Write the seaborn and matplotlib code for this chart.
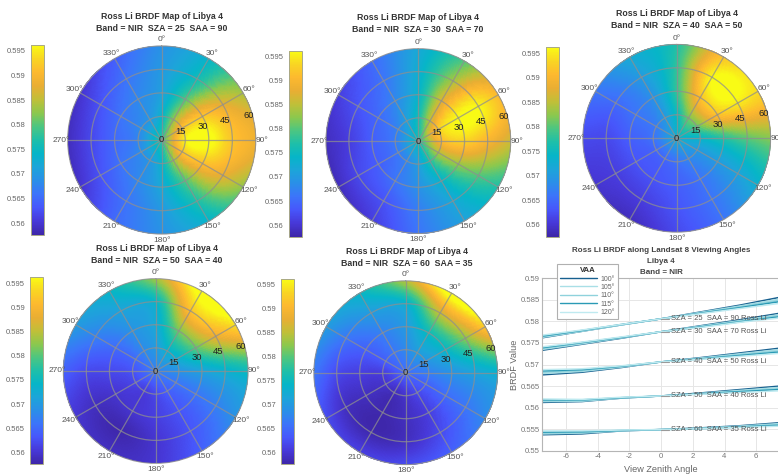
import numpy as np
import pandas as pd
import matplotlib
matplotlib.use("Agg")
import matplotlib.pyplot as plt
from matplotlib.colors import LinearSegmentedColormap
from matplotlib.lines import Line2D
import seaborn as sns

W, H = 778, 474

# ---- BRDF map tables: columns are azimuth 0,30,...,330
AZ = [0, 30, 60, 90, 120, 150, 180, 210, 240, 270, 300, 330]
RINGS = [0, 15, 30, 45, 60]

M25_C = 0.578
M25_15 = [.574, .583, .591, .595, .591, .583, .574, .570, .569, .568, .569, .570]
M25_30 = [.571, .580, .592, .597, .591, .580, .572, .568, .566, .565, .566, .568]
M25_45 = [.570, .576, .588, .592, .588, .577, .570, .566, .563, .562, .563, .566]
M25_60 = [.569, .574, .584, .589, .583, .574, .569, .565, .560, .559, .560, .564]

M30_C = 0.576
M30_15 = [.576, .585, .592, .590, .584, .577, .571, .568, .567, .567, .568, .571]
M30_30 = [.574, .587, .596, .593, .583, .574, .569, .566, .564, .564, .565, .568]
M30_45 = [.573, .584, .596, .590, .580, .572, .567, .563, .562, .561, .563, .566]
M30_60 = [.572, .580, .591, .586, .577, .571, .566, .561, .559, .559, .561, .565]

M40_C = 0.573
M40_15 = [.575, .581, .580, .574, .570, .568, .566, .565, .565, .566, .567, .570]
M40_30 = [.578, .591, .591, .577, .570, .566, .564, .563, .563, .564, .566, .569]
M40_45 = [.578, .596, .595, .580, .571, .566, .563, .561, .561, .562, .565, .570]
M40_60 = [.577, .592, .594, .582, .573, .566, .562, .559, .560, .562, .566, .572]

M50_C = 0.567
M50_15 = [.570, .573, .572, .569, .566, .564, .562, .561, .562, .563, .565, .568]
M50_30 = [.572, .581, .580, .571, .566, .563, .561, .560, .560, .562, .565, .569]
M50_45 = [.574, .591, .588, .573, .567, .563, .560, .558, .559, .562, .567, .571]
M50_60 = [.583, .598, .594, .575, .569, .564, .560, .559, .560, .564, .570, .574]

M60_C = 0.565
M60_15 = [.568, .570, .569, .567, .564, .562, .560, .559, .560, .561, .564, .566]
M60_30 = [.570, .575, .574, .569, .565, .561, .559, .558, .559, .561, .564, .567]
M60_45 = [.573, .585, .582, .571, .566, .562, .559, .558, .559, .562, .566, .570]
M60_60 = [.584, .598, .592, .573, .568, .564, .562, .561, .562, .566, .570, .574]

TITLES = ["Band = NIR  SZA = 25  SAA = 90", "Band = NIR  SZA = 30  SAA = 70",
          "Band = NIR  SZA = 40  SAA = 50", "Band = NIR  SZA = 50  SAA = 40",
          "Band = NIR  SZA = 60  SAA = 35"]
CBAR_TICKS = [0.56, 0.565, 0.57, 0.575, 0.58, 0.585, 0.59, 0.595]
CBAR_LABELS = ["0.56", "0.565", "0.57", "0.575", "0.58", "0.585", "0.59", "0.595"]
THETA_LABELS = ["0°", "30°", "60°", "90°", "120°", "150°", "180°", "210°", "240°", "270°", "300°", "330°"]
R_LABELS = ["0", "15", "30", "45", "60"]
R_LABEL_AZ = [0, 66, 72, 73, 74]
R_LABEL_R = [0, 13, 27.8, 42.4, 57.6]

# ---- line panel
VZA = [-7.5, -5, -2.5, 0, 2.5, 5, 7.5]
VAA_NAMES = ["100°", "105°", "110°", "115°", "120°"]
L25_100 = [.5762, .5777, .5792, .5806, .5822, .5838, .5856]
L25_105 = [.5763, .5777, .5792, .5806, .5821, .5836, .5852]
L25_110 = [.5765, .5778, .5792, .5806, .5820, .5834, .5849]
L25_115 = [.5766, .5779, .5793, .5806, .5819, .5832, .5846]
L25_120 = [.5768, .5780, .5793, .5806, .5818, .5830, .5842]

L30_100 = [.5733, .5747, .5761, .5776, .5790, .5804, .5819]
L30_105 = [.5735, .5748, .5762, .5776, .5789, .5802, .5816]
L30_110 = [.5737, .5750, .5762, .5776, .5788, .5801, .5814]
L30_115 = [.5739, .5751, .5763, .5776, .5787, .5799, .5811]
L30_120 = [.5741, .5752, .5764, .5776, .5786, .5798, .5808]

L40_100 = [.5676, .5682, .5693, .5706, .5716, .5727, .5738]
L40_105 = [.5679, .5684, .5694, .5706, .5715, .5725, .5735]
L40_110 = [.5682, .5686, .5695, .5706, .5714, .5723, .5732]
L40_115 = [.5685, .5688, .5696, .5706, .5713, .5721, .5729]
L40_120 = [.5688, .5690, .5697, .5706, .5712, .5719, .5726]

L50_100 = [.5612, .5614, .5622, .5627, .5634, .5642, .5650]
L50_105 = [.5614, .5615, .5622, .5627, .5633, .5640, .5647]
L50_110 = [.5616, .5616, .5623, .5627, .5632, .5638, .5644]
L50_115 = [.5618, .5618, .5623, .5627, .5632, .5637, .5642]
L50_120 = [.5620, .5619, .5624, .5627, .5631, .5635, .5639]

L60_100 = [.5537, .5539, .5546, .5549, .5553, .5558, .5565]
L60_105 = [.5539, .5541, .5546, .5549, .5552, .5557, .5563]
L60_110 = [.5541, .5542, .5547, .5549, .5552, .5556, .5561]
L60_115 = [.5543, .5544, .5547, .5549, .5551, .5555, .5559]
L60_120 = [.5546, .5546, .5548, .5549, .5551, .5554, .5557]

LINE_LABELS = ["SZA = 25  SAA = 90 Ross Li", "SZA = 30  SAA = 70 Ross Li",
               "SZA = 40  SAA = 50 Ross Li", "SZA = 50  SAA = 40 Ross Li",
               "SZA = 60  SAA = 35 Ross Li"]
LINE_LABEL_Y = [.5806, .5776, .5706, .5627, .5549]

PARULA = ["#3e26a8", "#4738d8", "#4756fb", "#3c74fa", "#2a8fe8", "#1ca5d9", "#06b5c8",
          "#1ebfa9", "#4cc681", "#8cc84d", "#c1bf38", "#e9ae33", "#fdb92f", "#f9d523", "#f9fb15"]
cmap = LinearSegmentedColormap.from_list("parula_like", PARULA, N=256)
VMIN, VMAX = 0.5576, 0.5962

sns.set_theme(style="whitegrid", rc={"axes.axisbelow": False})
plt.rcParams["font.family"] = ["Liberation Sans", "DejaVu Sans"]

fig = plt.figure(figsize=(W / 100, H / 100), dpi=100, facecolor="white")


def box(x0, y0, x1, y1):
    return [x0 / W, 1 - y1 / H, (x1 - x0) / W, (y1 - y0) / H]


def catmull(table, n, axis, periodic):
    """Smooth resampling for shading only; the table holds the read values."""
    arr = np.moveaxis(np.asarray(table, float), axis, 0)
    if periodic:
        pad = np.concatenate([arr[-1:], arr, arr[:2]], axis=0)
    else:
        pad = np.concatenate([2 * arr[:1] - arr[1:2], arr, 2 * arr[-1:] - arr[-2:-1]], axis=0)
    segs = len(pad) - 3
    u = np.linspace(0, segs, n)
    i = np.minimum(u.astype(int), segs - 1)
    t = (u - i).reshape((-1,) + (1,) * (arr.ndim - 1))
    p0, p1, p2, p3 = pad[i], pad[i + 1], pad[i + 2], pad[i + 3]
    out = 0.5 * (2 * p1 + (p2 - p0) * t + (2 * p0 - 5 * p1 + 4 * p2 - p3) * t ** 2
                 + (3 * p1 - p0 - 3 * p2 + p3) * t ** 3)
    return np.moveaxis(out, 0, axis)


def soften(field, width):
    """Circular running mean along azimuth, to remove kinks of the resampling."""
    kernel = np.ones(width) / width
    wrapped = np.concatenate([field[:, -width:], field, field[:, :width]], axis=1)
    return np.apply_along_axis(lambda row: np.convolve(row, kernel, mode="same"), 1, wrapped)[:, width:-width]


def draw_map(centre, rings, title, circle, cbar, title_xy):
    cx, cy, rad = circle
    ax = fig.add_axes(box(cx - rad, cy - rad, cx + rad, cy + rad), projection="polar")
    table = np.vstack([[centre] * len(AZ)] + rings)
    fine = catmull(table, 120, 0, False)
    fine = soften(catmull(fine, 720, 1, True), 21)
    the = np.radians(np.linspace(0, 360, 721))
    re = np.linspace(0, 60, 121)
    mesh = ax.pcolormesh(the, re, fine, cmap=cmap, vmin=VMIN, vmax=VMAX, shading="flat",
                         antialiased=False, edgecolors="face", linewidth=0.3)
    ax.set_theta_zero_location("N")
    ax.set_theta_direction(-1)
    ax.set_rlim(0, 60)
    ax.set_thetagrids(AZ, THETA_LABELS, fontsize=6, color="#555555")
    ax.set_rgrids(RINGS, [""] * len(RINGS))
    for txt, az, r in zip(R_LABELS, R_LABEL_AZ, R_LABEL_R):
        ax.text(np.radians(az), r, txt, fontsize=6.8, color="#222222", ha="center", va="center", zorder=6)
    ax.tick_params(axis="x", pad=-8.5)
    ax.grid(True, color="#8f8f8f", lw=0.9, alpha=0.75)
    ax.spines["polar"].set_color("#9a9a9a")
    ax.spines["polar"].set_linewidth(0.6)
    cax = fig.add_axes(box(*cbar))
    cax.grid(False)
    cb = fig.colorbar(mesh, cax=cax)
    cb.ax.grid(False)
    cb.set_ticks(CBAR_TICKS, labels=CBAR_LABELS)
    cb.ax.yaxis.set_ticks_position("left")
    cb.ax.tick_params(labelsize=5.5, colors="#666666", length=0, pad=3.5)
    cb.outline.set_edgecolor("#a8a888")
    cb.outline.set_linewidth(0.7)
    tx, ty1, ty2 = title_xy
    fig.text(tx / W, 1 - ty1 / H, "Ross Li BRDF Map of Libya 4", ha="center", va="center",
             fontsize=6.35, fontweight="bold", color="#333333")
    fig.text(tx / W, 1 - ty2 / H, title, ha="center", va="center",
             fontsize=6.35, fontweight="bold", color="#333333")


draw_map(M25_C, [M25_15, M25_30, M25_45, M25_60], TITLES[0], (161.7, 140, 94.2), (30.7, 45, 44, 235), (162, 16.7, 28.3))
draw_map(M30_C, [M30_15, M30_30, M30_45, M30_60], TITLES[1], (418.3, 141, 92.5), (288.7, 50.7, 302.3, 236.7), (418, 18, 30))
draw_map(M40_C, [M40_15, M40_30, M40_45, M40_60], TITLES[2], (676.7, 138.3, 94), (545.7, 47.3, 559, 236.7), (676.7, 14, 25.7))
draw_map(M50_C, [M50_15, M50_30, M50_45, M50_60], TITLES[3], (155.7, 371, 92.5), (30, 277.3, 43.3, 464), (156.7, 248.3, 260.7))
draw_map(M60_C, [M60_15, M60_30, M60_45, M60_60], TITLES[4], (405.7, 372.7, 92), (281, 279, 294.3, 464.3), (406.7, 251.7, 263.3))

# ---- line panel
groups = {
    "25": [L25_100, L25_105, L25_110, L25_115, L25_120],
    "30": [L30_100, L30_105, L30_110, L30_115, L30_120],
    "40": [L40_100, L40_105, L40_110, L40_115, L40_120],
    "50": [L50_100, L50_105, L50_110, L50_115, L50_120],
    "60": [L60_100, L60_105, L60_110, L60_115, L60_120],
}
rows = []
for key, series in groups.items():
    for name, vals in zip(VAA_NAMES, series):
        for x, y in zip(VZA, vals):
            rows.append({"VZA": x, "BRDF": y, "VAA": name, "SZA": key})
df = pd.DataFrame(rows)

LINE_COLORS = ["#17608f", "#a9dfe6", "#8fd2dc", "#2a9ab5", "#bfeaf0"]
ax = fig.add_axes(box(542.3, 278.3, 780, 450.7))
sns.lineplot(data=df, x="VZA", y="BRDF", hue="VAA", units="SZA", estimator=None,
             hue_order=VAA_NAMES, palette=LINE_COLORS, lw=1.1, ax=ax, legend=False, sort=False)
ax.set_xlim(-7.5, 7.5)
ax.set_ylim(0.55, 0.59)
ax.set_xticks([-6, -4, -2, 0, 2, 4, 6])
ax.set_xticklabels(["-6", "-4", "-2", "0", "2", "4", "6"])
ax.set_yticks([0.55, 0.555, 0.56, 0.565, 0.57, 0.575, 0.58, 0.585, 0.59])
ax.set_yticklabels(["0.55", "0.555", "0.56", "0.565", "0.57", "0.575", "0.58", "0.585", "0.59"])
ax.tick_params(labelsize=5.6, colors="#777777", length=0, pad=2)
ax.grid(True, color="#e6e6e6", lw=0.7)
ax.set_axisbelow(True)
ax.set_xlabel("View Zenith Angle", fontsize=6.6, color="#666666", labelpad=3)
ax.set_ylabel("BRDF Value", fontsize=6.6, color="#666666", labelpad=1)
for side, spine in ax.spines.items():
    spine.set_color("#b5b5b5")
    spine.set_linewidth(0.8)
    spine.set_visible(side in ("left", "bottom", "top"))
for text, y in zip(LINE_LABELS, LINE_LABEL_Y):
    ax.plot([0, 0.5], [y, y], color="#9a9a9a", lw=0.8)
    ax.text(0.6, y, text, fontsize=5.5, color="#555555", va="center", ha="left")

for y, t in [(251, "Ross Li BRDF along Landsat 8 Viewing Angles"), (261.7, "Libya 4"), (272.3, "Band = NIR")]:
    fig.text(661 / W, 1 - y / H, t, ha="center", va="center", fontsize=5.75, fontweight="bold", color="#444444")

handles = [Line2D([], [], color=c, lw=1.0) for c in LINE_COLORS]
leg = fig.legend(handles, VAA_NAMES, loc="upper left", bbox_to_anchor=(557.3 / W, 1 - 264 / H),
                 borderaxespad=0, title="VAA", fontsize=5, frameon=True, fancybox=False, framealpha=1,
                 edgecolor="#b0b0b0", labelspacing=0.2, handlelength=5.2, borderpad=0.45, handletextpad=0.5)
leg.get_title().set_fontsize(5.6)
leg.get_title().set_fontweight("bold")
leg.get_title().set_color("#333333")
for t in leg.get_texts():
    t.set_color("#666666")
leg.get_frame().set_linewidth(0.8)
fig.add_artist(Line2D([557.3 / W, 599 / W], [1 - 274.3 / H] * 2, color="#b0b0b0", lw=0.7))

fig.savefig("out.png", dpi=100)
